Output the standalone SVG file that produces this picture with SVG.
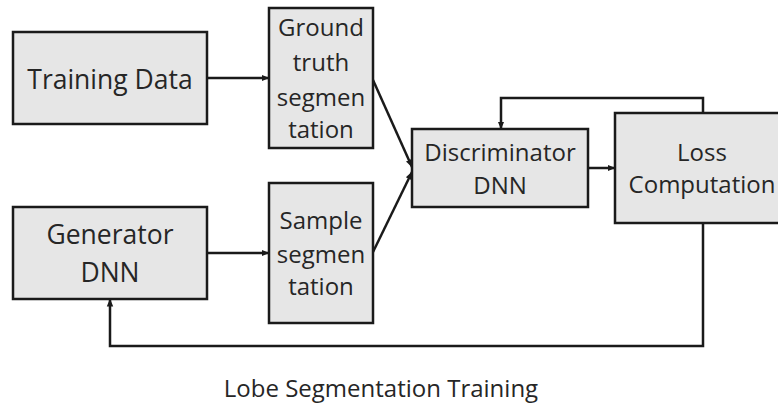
<svg xmlns="http://www.w3.org/2000/svg" width="778" height="406" viewBox="0 0 778 406">
  <defs>
    <marker id="arrow" markerUnits="userSpaceOnUse" markerWidth="8" markerHeight="8" viewBox="0 0 8 8" refX="7.5" refY="4" orient="auto">
      <path d="M0,0.8 L8,4 L0,7.2 Z" fill="#1a1a1a"/>
    </marker>
    <style>
      .box { fill: #e6e6e6; stroke: #1a1a1a; stroke-width: 2.5; }
      .lbl { font-family: "Open Sans", "Noto Sans", sans-serif; fill: #262626; text-anchor: middle; }
      .big { font-size: 26.5px; }
      .mid { font-size: 24px; }
      .edge { fill: none; stroke: #1a1a1a; stroke-width: 2.5; marker-end: url(#arrow); }
    </style>
  </defs>
  <rect width="778" height="406" fill="#ffffff"/>

  <g id="connectors">
    <path class="edge" d="M207,78 H269"/>
    <path class="edge" d="M207,253 H269"/>
    <path class="edge" d="M373,80 L412,167"/>
    <path class="edge" d="M373,252 L412,172"/>
    <path class="edge" d="M588,168 H615"/>
    <path class="edge" d="M703,113 V98 H501 V129"/>
    <path class="edge" d="M703,223 V346 H110 V299"/>
  </g>

  <g id="training-data">
    <rect class="box" x="13" y="32" width="194" height="92"/>
    <text class="lbl big" x="110" y="89">Training Data</text>
  </g>

  <g id="generator-dnn">
    <rect class="box" x="13" y="207" width="194" height="92"/>
    <text class="lbl big" x="110" y="244">Generator</text>
    <text class="lbl big" x="110" y="282">DNN</text>
  </g>

  <g id="ground-truth">
    <rect class="box" x="269" y="8" width="104" height="140"/>
    <text class="lbl mid" x="321" y="36">Ground</text>
    <text class="lbl mid" x="321" y="71">truth</text>
    <text class="lbl mid" x="321" y="106">segmen</text>
    <text class="lbl mid" x="321" y="138">tation</text>
  </g>

  <g id="sample-segmentation">
    <rect class="box" x="269" y="183" width="104" height="140"/>
    <text class="lbl mid" x="321" y="229">Sample</text>
    <text class="lbl mid" x="321" y="263">segmen</text>
    <text class="lbl mid" x="321" y="295">tation</text>
  </g>

  <g id="discriminator-dnn">
    <rect class="box" x="412" y="129" width="176" height="78"/>
    <text class="lbl mid" x="500" y="161">Discriminator</text>
    <text class="lbl mid" x="500" y="194">DNN</text>
  </g>

  <g id="loss-computation">
    <rect class="box" x="615" y="113" width="175" height="110"/>
    <text class="lbl mid" x="702" y="161">Loss</text>
    <text class="lbl mid" x="702" y="193">Computation</text>
  </g>

  <text id="caption" class="lbl" style="font-size:24px" x="381" y="397">Lobe Segmentation Training</text>
</svg>
